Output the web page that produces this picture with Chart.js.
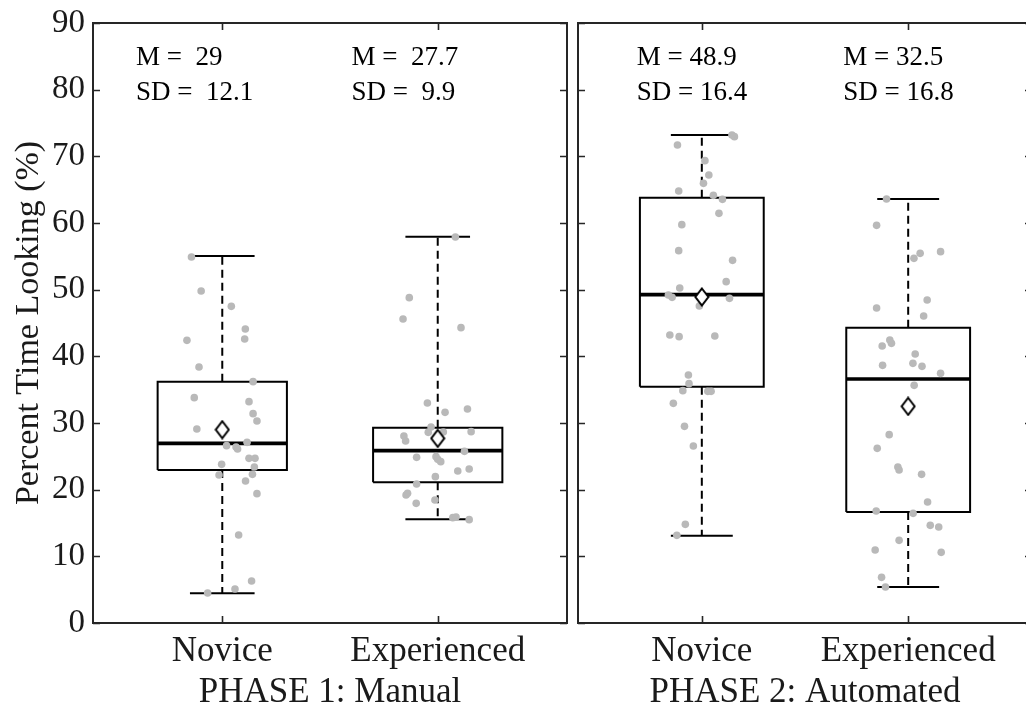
<!DOCTYPE html>
<html>
<head>
<meta charset="utf-8">
<script src="https://cdn.jsdelivr.net/npm/chart.js@4.4.1/dist/chart.umd.min.js"></script>
<style>
  html, body { margin: 0; padding: 0; background: #fff; overflow: hidden; width: 1026px; height: 711px; }
  #wrap { position: relative; width: 1026px; height: 711px; overflow: hidden; }
  #c1 { position: absolute; left: 0; top: 0; }
  #c2 { position: absolute; left: 572px; top: 0; }
</style>
</head>
<body>
<div id="wrap">
  <canvas id="c1" width="572" height="711"></canvas>
  <canvas id="c2" width="465" height="711"></canvas>
</div>
<script>
// ---------- DATA ----------
const categories = ['Novice', 'Experienced'];
const phaseTitles = ['PHASE 1: Manual', 'PHASE 2: Automated'];
const yTickValues = [0, 10, 20, 30, 40, 50, 60, 70, 80, 90];
const yTitle = 'Percent Time Looking (%)';

// Phase 1 box statistics [Novice, Experienced]
const p1Q1 = [22.95, 21.1];
const p1Median = [26.95, 25.85];
const p1Q3 = [36.2, 29.3];
const p1WhiskerLow = [4.45, 15.55];
const p1WhiskerHigh = [55.05, 57.95];
const p1Mean = [29, 27.7];
const p1SD = [12.1, 9.9];

// Phase 2 box statistics [Novice, Experienced]
const p2Q1 = [35.45, 16.65];
const p2Median = [49.25, 36.6];
const p2Q3 = [63.8, 44.3];
const p2WhiskerLow = [13.1, 5.4];
const p2WhiskerHigh = [73.2, 63.6];
const p2Mean = [48.9, 32.5];
const p2SD = [16.4, 16.8];

// Individual observations and their horizontal jitter (category units)
const p1NoviceVals = [54.9,49.8,47.5,44.1,42.4,42.6,38.4,36.2,33.8,33.2,31.4,30.3,29.1,27.1,26.6,26.4,26.1,24.7,24.7,23.8,23.4,22.2,22.3,21.3,19.4,13.2,6.3,5.1,4.5];
const p1NoviceJitter = [-0.143,-0.098,0.042,0.107,-0.164,0.104,-0.108,0.143,-0.130,0.124,0.143,0.161,-0.118,0.115,0.020,0.064,0.071,0.124,0.152,-0.003,0.149,-0.015,0.140,0.108,0.161,0.076,0.136,0.059,-0.068];
const p1ExpVals = [57.9,48.8,45.6,44.3,33.0,32.1,31.6,29.4,28.6,28.7,28.05,27.3,28.65,25.75,24.85,24.95,24.55,24.2,22.8,23.1,21.95,20.85,19.45,19.2,17.95,18.45,15.8,15.9,15.5];
const p1ExpJitter = [0.082,-0.132,-0.161,0.108,-0.048,0.138,0.034,-0.031,-0.044,0.155,-0.157,-0.149,0.026,0.124,-0.098,-0.008,0,0.014,0.093,0.146,-0.011,-0.098,-0.140,-0.147,-0.1,-0.013,0.07,0.085,0.146];
const p2NoviceVals = [72.95,73.2,71.7,69.35,67.2,65.95,64.8,64.15,63.55,61.45,59.75,55.85,54.4,51.2,50.25,49.2,48.85,48.7,47.55,43.2,42.95,43.05,37.2,35.9,34.85,34.75,34.75,32.95,29.5,26.55,14.8,13.15];
const p2NoviceJitter = [0.158,0.146,-0.118,0.015,0.034,0.008,-0.112,0.056,0.100,0.083,-0.097,-0.112,0.149,0.118,-0.107,-0.162,-0.144,0.134,-0.012,-0.155,-0.110,0.063,-0.065,-0.062,-0.092,0.029,0.045,-0.138,-0.084,-0.041,-0.080,-0.121];
const p2ExpVals = [63.6,59.65,55.7,55.45,54.7,48.45,47.25,46.05,42.45,41.95,41.55,40.35,38.95,38.65,38.5,37.45,35.65,28.25,26.2,23.4,22.95,22.3,18.15,16.8,16.45,14.65,14.4,12.4,10.95,10.6,6.85,5.4];
const p2ExpJitter = [-0.105,-0.153,0.157,0.058,0.028,0.092,-0.153,0.075,-0.089,-0.081,-0.126,0.034,0.023,-0.124,0.067,0.157,0.029,-0.092,-0.150,-0.050,-0.044,0.065,0.094,-0.155,0.024,0.107,0.148,-0.044,-0.160,0.160,-0.129,-0.110];

// ---------- STYLE / BUILD ----------
const FONT = "'Liberation Serif', 'Times New Roman', serif";
const BOX_HALF = 0.3, CAP_HALF = 0.15;

const diamond = document.createElement('canvas');
diamond.width = 16; diamond.height = 20;
(function () {
  const g = diamond.getContext('2d');
  g.beginPath();
  g.moveTo(8, 1.5); g.lineTo(14.5, 10); g.lineTo(8, 18.5); g.lineTo(1.5, 10); g.closePath();
  g.fillStyle = '#fff'; g.fill();
  g.lineWidth = 2; g.strokeStyle = '#000'; g.lineJoin = 'miter'; g.stroke();
})();

function lineDs(points, width, dash) {
  return {
    data: points, showLine: true, pointRadius: 0, pointHoverRadius: 0,
    borderColor: '#000', borderWidth: width, borderDash: dash || [],
    borderCapStyle: 'butt', borderJoinStyle: 'miter', fill: false, tension: 0, order: 3
  };
}

function buildDatasets(q1, med, q3, lo, hi, mean, vals, jits) {
  const ds = [];
  ds.push({
    data: mean.map((m, i) => ({ x: i + 1, y: m })),
    pointStyle: diamond, pointRadius: 9, pointHoverRadius: 9, showLine: false, order: 0
  });
  vals.forEach((arr, k) => {
    ds.push({
      data: arr.map((v, i) => ({ x: k + 1 + jits[k][i], y: v })),
      pointStyle: 'circle', pointRadius: 3.8, pointHoverRadius: 3.8,
      backgroundColor: '#b9b9b9', borderWidth: 0, showLine: false, order: 1
    });
  });
  for (let i = 0; i < q1.length; i++) {
    const p = i + 1;
    ds.push(lineDs([
      { x: p - BOX_HALF, y: q1[i] }, { x: p + BOX_HALF, y: q1[i] },
      { x: p + BOX_HALF, y: q3[i] }, { x: p - BOX_HALF, y: q3[i] },
      { x: p - BOX_HALF, y: q1[i] }
    ], 2));
    ds.push(lineDs([{ x: p - BOX_HALF, y: med[i] }, { x: p + BOX_HALF, y: med[i] }], 3.6));
    ds.push(lineDs([{ x: p, y: q3[i] }, { x: p, y: hi[i] }], 2, [8, 5]));
    ds.push(lineDs([{ x: p, y: q1[i] }, { x: p, y: lo[i] }], 2, [8, 5]));
    ds.push(lineDs([{ x: p - CAP_HALF, y: hi[i] }, { x: p + CAP_HALF, y: hi[i] }], 2));
    ds.push(lineDs([{ x: p - CAP_HALF, y: lo[i] }, { x: p + CAP_HALF, y: lo[i] }], 2));
  }
  return ds;
}

const framePlugin = {
  id: 'frame',
  afterDraw(chart, args, opts) {
    const ctx = chart.ctx;
    const a = chart.chartArea;
    const xs = chart.scales.x, ys = chart.scales.y;
    ctx.save();
    ctx.strokeStyle = '#262626';
    ctx.lineWidth = 2;
    ctx.strokeRect(a.left, a.top, a.right - a.left, a.bottom - a.top);
    ctx.lineWidth = 1.6;
    ctx.beginPath();
    yTickValues.forEach(v => {
      const py = Math.round(ys.getPixelForValue(v)) + 0.5;
      ctx.moveTo(a.left, py); ctx.lineTo(a.left + 7, py);
      ctx.moveTo(a.right - 7, py); ctx.lineTo(a.right, py);
    });
    categories.forEach((c, i) => {
      const px = Math.round(xs.getPixelForValue(i + 1)) + 0.5;
      ctx.moveTo(px, a.top); ctx.lineTo(px, a.top + 7);
      ctx.moveTo(px, a.bottom); ctx.lineTo(px, a.bottom - 7);
    });
    ctx.stroke();
    ctx.fillStyle = '#000';
    ctx.font = '27px ' + FONT;
    ctx.textAlign = 'left';
    ctx.textBaseline = 'alphabetic';
    opts.means.forEach((m, i) => {
      const px = xs.getPixelForValue(i + 1 + opts.textShift);
      ctx.fillText(opts.mLabel + m, px, ys.getPixelForValue(83.7));
      ctx.fillText(opts.sdLabel + opts.sds[i], px, ys.getPixelForValue(78.45));
    });
    ctx.restore();
  }
};

function zeroPad(s) { s.paddingTop = 0; s.paddingBottom = 0; s.paddingLeft = 0; s.paddingRight = 0; }

function makeChart(id, phaseIdx, datasets, showY, padding, frameOpts) {
  return new Chart(document.getElementById(id), {
    type: 'scatter',
    data: { datasets },
    plugins: [framePlugin],
    options: {
      responsive: false, animation: false, devicePixelRatio: 1,
      layout: { padding, autoPadding: false },
      plugins: {
        legend: { display: false }, tooltip: { enabled: false },
        frame: frameOpts
      },
      scales: {
        x: {
          type: 'linear', min: 0.4, max: 2.6,
          grid: { display: false, drawTicks: false },
          border: { display: false },
          afterBuildTicks: s => { s.ticks = categories.map((c, i) => ({ value: i + 1 })); },
          afterFit: s => { s.height = 88; zeroPad(s); },
          ticks: {
            padding: 8, color: '#1a1a1a', maxRotation: 0, autoSkip: false,
            font: { family: FONT, size: 35 },
            callback: v => categories[Math.round(v) - 1]
          },
          title: {
            display: true, text: phaseTitles[phaseIdx], color: '#1a1a1a',
            font: { family: FONT, size: 35, lineHeight: 1.05 }, padding: { top: 0, bottom: 0 }
          }
        },
        y: {
          display: showY, min: 0, max: 90,
          grid: { display: false, drawTicks: false },
          border: { display: false },
          afterBuildTicks: s => { s.ticks = yTickValues.map(v => ({ value: v })); },
          afterFit: s => { if (showY) s.width = 93; zeroPad(s); },
          ticks: { padding: 8, color: '#1a1a1a', font: { family: FONT, size: 33 } },
          title: {
            display: showY, text: yTitle, color: '#1a1a1a',
            font: { family: FONT, size: 34 }, padding: { top: 9, bottom: 0 }
          }
        }
      }
    }
  });
}

const ds1 = buildDatasets(p1Q1, p1Median, p1Q3, p1WhiskerLow, p1WhiskerHigh, p1Mean,
  [p1NoviceVals, p1ExpVals], [p1NoviceJitter, p1ExpJitter]);
const ds2 = buildDatasets(p2Q1, p2Median, p2Q3, p2WhiskerLow, p2WhiskerHigh, p2Mean,
  [p2NoviceVals, p2ExpVals], [p2NoviceJitter, p2ExpJitter]);

makeChart('c1', 0, ds1, true, { left: 0, right: 5, top: 23, bottom: 0 },
  { means: p1Mean, sds: p1SD, textShift: -0.40, mLabel: 'M =  ', sdLabel: 'SD =  ' });
makeChart('c2', 1, ds2, false, { left: 6, right: 5, top: 23, bottom: 0 },
  { means: p2Mean, sds: p2SD, textShift: -0.315, mLabel: 'M = ', sdLabel: 'SD = ' });
</script>
</body>
</html>
